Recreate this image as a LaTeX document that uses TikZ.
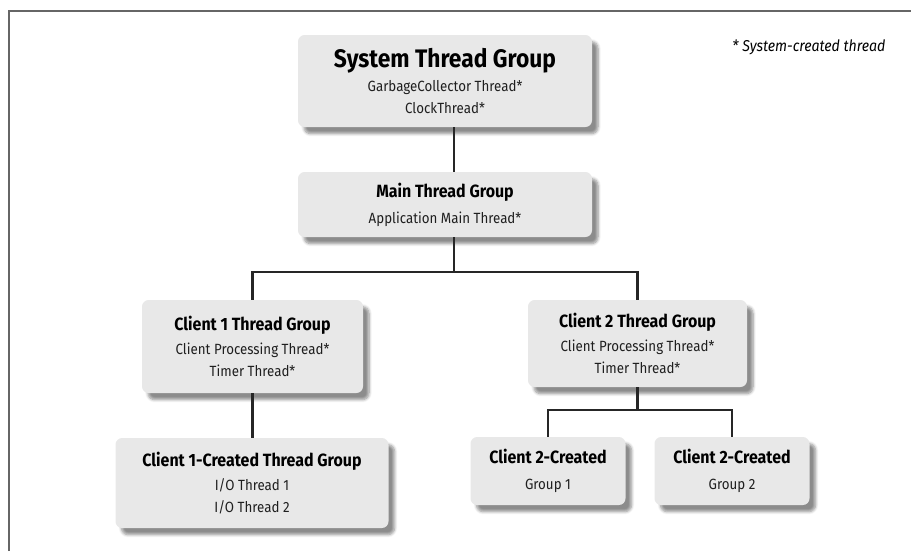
\documentclass[tikz,border=0pt]{standalone}
\usepackage{fontspec}
\setmainfont{Fira Sans}[FakeStretch=0.9]
\usetikzlibrary{positioning, shadows.blur}
\tikzset{group/.style={fill=black!9, rounded corners=5pt, text=black!88, align=center, inner sep=0pt,
                       font=\fontsize{11.1}{16.5}\selectfont,
                       blur shadow={shadow xshift=4.5pt, shadow yshift=-5pt, shadow blur steps=6, shadow opacity=45}},
         link/.style={draw=black!85, line width=1.8pt},
         frame/.style={draw=black!60, line width=1.3pt},
        }
\newcommand{\grouphead}[1]{{\fontsize{13.3}{16}\selectfont\bfseries\color{black}#1}}

\begin{document}
\begin{tikzpicture}[x=0.75pt, y=-0.75pt]
        \useasboundingbox (0,0) rectangle (911,551);
        \draw[frame](9,551)--(9,11)--(911,11);

        \node[group, minimum width=220.5pt, minimum height=69pt](sys)at(445,81)
            {{\fontsize{19}{22}\selectfont\bfseries\color{black}System Thread Group}\\[2pt]
             GarbageCollector Thread*\\ClockThread*};
        \node[font=\itshape\fontsize{11.8}{14}\selectfont](legend)at(809,47){* System-created thread};

        \node[group, minimum width=220.5pt, minimum height=48.75pt](main)at(445,204.5)
            {\grouphead{Main Thread Group}\\[3pt] Application Main Thread*};

        \node[group, minimum width=165.75pt, minimum height=69.75pt](c1)at(252.5,346.5)
            {\grouphead{Client 1 Thread Group}\\[1pt] Client Processing Thread*\\Timer Thread*};
        \node[group, minimum width=164.25pt, minimum height=65.25pt](c2)at(637.5,343.5)
            {\grouphead{Client 2 Thread Group}\\[1pt] Client Processing Thread*\\Timer Thread*};

        \node[group, minimum width=204.75pt, minimum height=67.5pt](c1c)at(252,483)
            {\grouphead{Client 1-Created Thread Group}\\[1pt] I/O Thread 1\\I/O Thread 2};
        \node[group, minimum width=116.25pt, minimum height=51pt](g1)at(548,471)
            {\grouphead{Client 2-Created}\\[3pt] Group 1};
        \node[group, minimum width=116.25pt, minimum height=51pt](g2)at(732,471)
            {\grouphead{Client 2-Created}\\[3pt] Group 2};

        \coordinate(trunk)at(454,0);
        \coordinate(bus1)at(0,272);
        \coordinate(bus2)at(0,410);

        \draw[link](sys.south -| trunk)--(main.north -| trunk);
        \draw[link](main.south -| trunk)--(bus1 -| trunk);
        \draw[link](c1.north)--(c1.north |- bus1)--(c2.north |- bus1)--(c2.north);
        \draw[link](c1.south)--(c1.south |- c1c.north);
        \draw[link](c2.south)--(c2.south |- bus2);
        \draw[link](g1.north)--(g1.north |- bus2)--(g2.north |- bus2)--(g2.north);
    \end{tikzpicture}
\end{document}
